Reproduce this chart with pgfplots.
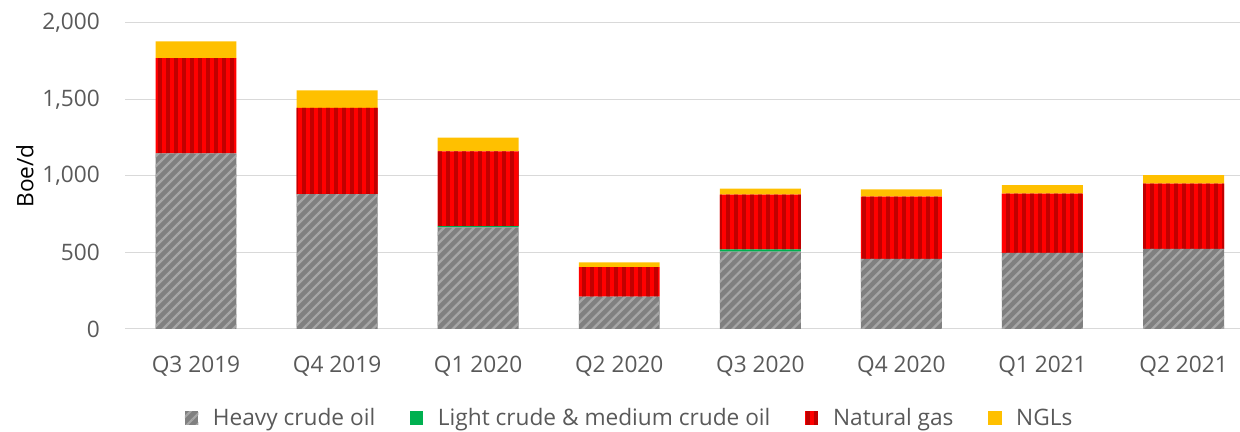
\documentclass[border=0pt]{standalone}
\usepackage{fontspec}
\setmainfont{Open Sans}
\usepackage{pgfplots}
\pgfplotsset{compat=1.18}
\usetikzlibrary{patterns.meta}
\definecolor{txt}{HTML}{595959}
\definecolor{gridc}{HTML}{D9D9D9}
\definecolor{heavy}{HTML}{808080}
\definecolor{heavyl}{HTML}{A6A6A6}
\definecolor{lightc}{HTML}{00B050}
\definecolor{gas}{HTML}{FF0000}
\definecolor{gasd}{HTML}{C00000}
\definecolor{ngl}{HTML}{FFC000}
\begin{document}
\begin{tikzpicture}
\begin{axis}[
  at={(0,0)}, anchor=south west,
  scale only axis, width=835.9pt, height=229.5pt,
  ybar stacked, bar width=0.574,
  xmin=-0.5, xmax=7.4, ymin=0, ymax=2000,
  xtick={0,...,7},
  xticklabels={Q3 2019,Q4 2019,Q1 2020,Q2 2020,Q3 2020,Q4 2020,Q1 2021,Q2 2021},
  ytick={0,500,1000,1500,2000},
  yticklabels={0,500,{1,000},{1,500},{2,000}},
  axis line style={draw=none},
  major tick length=0pt,
  ymajorgrids, grid style={color=gridc, line width=0.75pt},
  font=\fontsize{17}{20}\selectfont,
  tick label style={text=txt, inner sep=0pt},
  xticklabel style={anchor=base, yshift=-33pt},
  yticklabel style={anchor=east, xshift=-19pt},
  ylabel={Boe/d},
  ylabel style={text=txt},
  every axis y label/.style={at={(axis description cs:-0.0902,0.5)}, rotate=90, anchor=center},
  legend columns=4,
  legend style={at={(axis description cs:0.4527,-0.291)}, anchor=center, draw=none, fill=none, text=txt, font=\fontsize{17}{20}\selectfont, inner sep=0pt},
  legend cell align=left,
  /tikz/every odd column/.append style={column sep=9pt},
  /tikz/every even column/.append style={column sep=24pt},
  legend image code/.code={\path[#1,draw=none] (0pt,-5pt) rectangle (10pt,5pt);},
]
\addplot[fill=heavy, draw=none, postaction={pattern={Lines[angle=45,distance=5.3pt,line width=1.7pt]}, pattern color=heavyl}]
  coordinates {(0,1148) (1,882) (2,665) (3,211) (4,505) (5,458) (6,497) (7,523)};
\addlegendentry{Heavy crude oil}
\addplot[fill=lightc, draw=none]
  coordinates {(0,0) (1,0) (2,8) (3,0) (4,15) (5,0) (6,0) (7,0)};
\addlegendentry{Light crude \& medium crude oil}
\addplot[fill=gas, draw=none, postaction={pattern={Lines[angle=90,distance=6pt,line width=2.4pt]}, pattern color=gasd}]
  coordinates {(0,623) (1,564) (2,488) (3,194) (4,358) (5,407) (6,387) (7,427)};
\addlegendentry{Natural gas}
\addplot[fill=ngl, draw=none]
  coordinates {(0,109) (1,114) (2,89) (3,31) (4,39) (5,48) (6,57) (7,56)};
\addlegendentry{NGLs}
\end{axis}
\pgfresetboundingbox
\path (-94.1pt,-77.25pt) rectangle (835.9pt,246.75pt);
\end{tikzpicture}
\end{document}
